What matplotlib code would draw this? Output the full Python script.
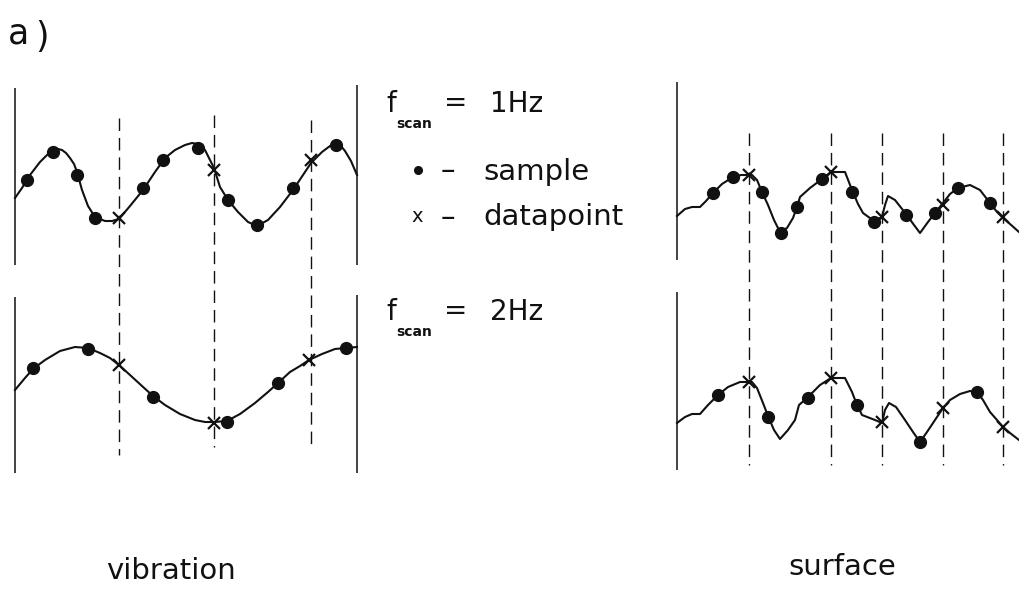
import matplotlib
matplotlib.use("Agg")
import matplotlib.pyplot as plt

plt.rcParams['font.family'] = ['DejaVu Sans']

# Drawing space: x to the right, y downwards (page units)
W, H = 1019, 589

# ---- vibration, f_scan = 1 Hz ----
vib1_x = [15, 22, 30, 40, 47, 53, 58, 62, 66, 70, 74, 77, 82, 88, 95, 105, 112, 119, 130, 143, 155,
          165, 175, 185, 192, 198, 205, 214, 220, 228, 238, 248, 257, 268, 280, 293, 303, 311, 322,
          330, 336, 341, 345, 351, 357]
vib1_y = [198, 188, 175, 162, 155, 151, 149, 150, 153, 158, 164, 172, 190, 206, 217, 221, 221, 219,
          206, 190, 172, 158, 150, 145, 143, 144, 150, 168, 187, 200, 212, 222, 226, 220, 207, 190,
          175, 163, 152, 146, 144, 146, 151, 161, 175]
vib1_sample_x = [27, 53, 77, 95, 143, 163, 198, 228, 257, 293, 336]
vib1_sample_y = [180, 152, 175, 218, 188, 160, 148, 200, 225, 188, 145]
vib1_data_x = [119, 214, 311]
vib1_data_y = [218, 170, 160]

# ---- vibration, f_scan = 2 Hz ----
vib2_x = [15, 25, 33, 45, 60, 75, 88, 100, 110, 119, 130, 142, 153, 165, 180, 195, 205, 214, 227,
          240, 255, 268, 278, 290, 300, 309, 322, 335, 346, 357]
vib2_y = [390, 378, 369, 360, 351, 347, 348, 353, 358, 365, 375, 386, 396, 405, 414, 420, 422, 422,
          421, 414, 403, 392, 383, 372, 366, 360, 354, 349, 348, 347]
vib2_sample_x = [33, 88, 153, 227, 278, 346]
vib2_sample_y = [368, 349, 397, 422, 383, 348]
vib2_data_x = [119, 214, 309]
vib2_data_y = [365, 423, 360]

# ---- surface, f_scan = 1 Hz ----
surf1_x = [677, 685, 692, 700, 706, 713, 722, 733, 741, 752, 757, 762, 768, 774, 780, 787, 793, 797,
           800, 810, 822, 831, 845, 852, 858, 863, 874, 882, 885, 888, 895, 906, 914, 920, 928, 935,
           943, 950, 958, 970, 980, 990, 997, 1003, 1010, 1019]
surf1_y = [216, 209, 207, 207, 201, 193, 184, 177, 175, 175, 180, 192, 205, 220, 232, 228, 218, 207,
           197, 188, 179, 172, 172, 190, 204, 213, 221, 217, 205, 196, 200, 214, 225, 233, 222, 213,
           203, 194, 188, 185, 190, 203, 212, 218, 224, 232]
surf1_sample_x = [713, 733, 762, 781, 797, 822, 852, 874, 906, 935, 958, 990]
surf1_sample_y = [193, 177, 192, 233, 207, 179, 192, 222, 215, 213, 188, 203]
surf1_data_x = [749, 831, 882, 943, 1003]
surf1_data_y = [175, 172, 217, 205, 217]

# ---- surface, f_scan = 2 Hz ----
surf2_x = [677, 685, 692, 700, 708, 718, 728, 740, 752, 757, 763, 768, 774, 780, 788, 795, 799, 808,
           820, 831, 845, 852, 857, 862, 875, 882, 885, 889, 896, 905, 913, 920, 927, 935, 943, 950,
           960, 970, 977, 983, 990, 997, 1003, 1010, 1019]
surf2_y = [423, 417, 414, 414, 405, 395, 387, 382, 382, 388, 403, 416, 430, 439, 430, 420, 405, 397,
           385, 378, 378, 392, 405, 415, 420, 423, 410, 403, 407, 420, 432, 442, 432, 420, 408, 400,
           394, 391, 392, 400, 412, 420, 427, 433, 440]
surf2_sample_x = [718, 768, 808, 857, 920, 977]
surf2_sample_y = [395, 417, 398, 405, 442, 392]
surf2_data_x = [749, 831, 882, 943, 1003]
surf2_data_y = [382, 378, 422, 408, 427]

# frame lines (x, top, bottom)
vib_frames = [(15, 88, 265), (357, 85, 265), (15, 297, 473), (357, 295, 473)]
surf_frames = [(677, 82, 260), (677, 292, 470)]
vib_scan_lines = [(119, 118, 455), (214, 115, 447), (311, 120, 447)]
surf_scan_lines = [(749, 133, 465), (831, 133, 465), (882, 133, 465), (943, 133, 465), (1003, 133, 465)]

fig = plt.figure(figsize=(W / 100, H / 100), dpi=100)
ax = fig.add_axes([0, 0, 1, 1])
ax.set_xlim(0, W)
ax.set_ylim(H, 0)
ax.axis('off')

ink = '#111111'

for x, y0, y1 in vib_frames + surf_frames:
    ax.plot([x, x], [y0, y1], color=ink, lw=1.1, solid_capstyle='butt')

for x, y0, y1 in vib_scan_lines + surf_scan_lines:
    ax.plot([x, x], [y0, y1], color=ink, lw=1.0, dashes=(9, 5))

traces = [
    (vib1_x, vib1_y, vib1_sample_x, vib1_sample_y, vib1_data_x, vib1_data_y),
    (vib2_x, vib2_y, vib2_sample_x, vib2_sample_y, vib2_data_x, vib2_data_y),
    (surf1_x, surf1_y, surf1_sample_x, surf1_sample_y, surf1_data_x, surf1_data_y),
    (surf2_x, surf2_y, surf2_sample_x, surf2_sample_y, surf2_data_x, surf2_data_y),
]
for cx, cy, sx, sy, dx, dy in traces:
    ax.plot(cx, cy, color=ink, lw=1.5, solid_joinstyle='round')
    ax.plot(sx, sy, 'o', color=ink, ms=8.5, mec=ink)
    ax.plot(dx, dy, 'x', color=ink, ms=9, mew=1.6)

# labels
txt = dict(color=ink, fontsize=21)
ax.text(8, 43, 'a', fontsize=25, color=ink, va='baseline', ha='left')
ax.text(35, 47, ')', fontsize=25, color=ink, va='baseline', ha='left')

for y_base, label in [(112, '1Hz'), (320, '2Hz')]:
    ax.text(386, y_base, 'f', va='baseline', ha='left', color=ink, fontsize=20)
    ax.text(396, y_base + 16, 'scan', fontsize=10, fontweight='bold', color=ink,
            va='baseline', ha='left')
    ax.text(444, y_base - 1, '=', va='baseline', ha='left', color=ink, fontsize=20)
    ax.text(490, y_base, label, va='baseline', ha='left', color=ink, fontsize=20)

ax.plot([418], [170], 'o', color=ink, ms=5.5)
ax.text(441, 179, '\u2013', va='baseline', ha='left', **txt)
ax.text(483, 180, 'sample', va='baseline', ha='left', **txt)
ax.text(411, 222, 'x', fontsize=14, color=ink, va='baseline', ha='left')
ax.text(441, 226, '\u2013', va='baseline', ha='left', **txt)
ax.text(483, 225, 'datapoint', va='baseline', ha='left', **txt)

ax.text(171, 579, 'vibration', va='baseline', ha='center', **txt)
ax.text(842, 575, 'surface', va='baseline', ha='center', **txt)

fig.savefig('out.png', dpi=100, facecolor='white')
